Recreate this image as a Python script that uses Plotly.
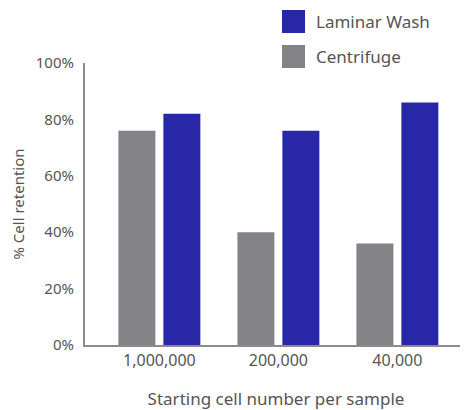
import plotly.graph_objects as go

categories = ["1,000,000", "200,000", "40,000"]
centrifuge = [76, 40, 36]
laminar_wash = [82, 76, 86]
y_ticks = [0, 20, 40, 60, 80, 100]
y_tick_labels = ["0%", "20%", "40%", "60%", "80%", "100%"]

GRAY = "#838387"
BLUE = "#2727A8"
TEXT = "#555555"
AXIS = "#8c8c8c"
FONT = "Noto Sans"

# page body has an 8px default margin; figure is sized to fill the rest
OFF = 8
L, T, PW, PH = 85 - OFF, 63 - OFF, 382, 282
W, H = 468 - OFF, 410 - OFF

fig = go.Figure()
fig.add_trace(go.Bar(name="Centrifuge", x=categories, y=centrifuge,
                     marker=dict(color=GRAY, line=dict(width=0)), showlegend=False))
fig.add_trace(go.Bar(name="Laminar Wash", x=categories, y=laminar_wash,
                     marker=dict(color=BLUE, line=dict(width=0)), showlegend=False))

# custom legend (large squares), positions in screen pixels
legend_items = [("Laminar Wash", BLUE), ("Centrifuge", GRAY)]
for i, (name, col) in enumerate(legend_items):
    y0 = 10 + i * 35
    fig.add_shape(type="rect", xref="paper", yref="paper",
                  x0=(282 - 85) / PW, x1=(305 - 85) / PW,
                  y0=(345 - (y0 + 23)) / PH, y1=(345 - y0) / PH,
                  fillcolor=col, line=dict(width=0))
    fig.add_annotation(text=name, xref="paper", yref="paper",
                       x=(314 - 85) / PW, y=(345 - (y0 + 11.5)) / PH,
                       xanchor="left", yanchor="middle", showarrow=False,
                       font=dict(family=FONT, size=17, color=TEXT))

fig.update_layout(
    width=W, height=H,
    margin=dict(l=L, r=W - L - PW, t=T, b=H - T - PH, autoexpand=False),
    paper_bgcolor="white", plot_bgcolor="white",
    barmode="group", bargap=0.244, bargroupgap=0.178,
    font=dict(family=FONT, size=16, color=TEXT),
    showlegend=False,
)
fig.update_xaxes(
    range=[-0.625, 2.585], showline=True, linecolor=AXIS, linewidth=2,
    ticks="", showgrid=False, zeroline=False, automargin=False,
    tickfont=dict(family=FONT, size=16, color=TEXT),
    title=dict(text="Starting cell number per sample",
               font=dict(family=FONT, size=17, color=TEXT), standoff=30),
)
fig.update_yaxes(
    range=[0, 100], showline=True, linecolor=AXIS, linewidth=2,
    tickvals=y_ticks, ticktext=y_tick_labels, ticks="", ticklabelstandoff=6,
    showgrid=False, zeroline=False, automargin=False,
    tickfont=dict(family=FONT, size=15, color=TEXT),
    title=dict(text="% Cell retention",
               font=dict(family=FONT, size=15, color=TEXT), standoff=17),
)

fig.write_html("out.html")
